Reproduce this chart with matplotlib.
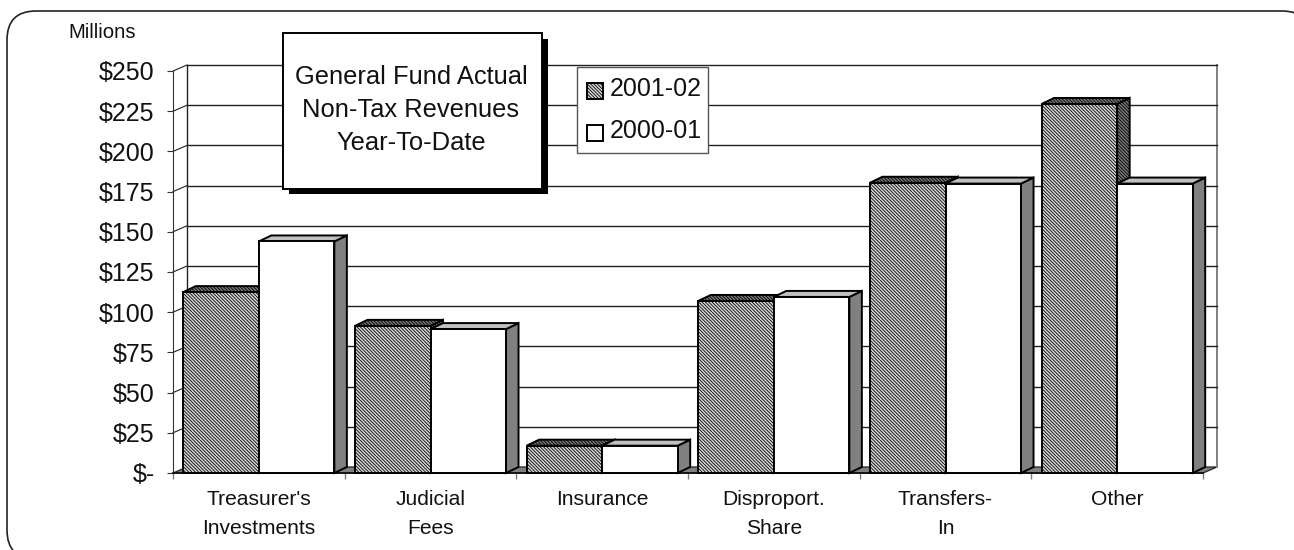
import matplotlib
matplotlib.use("Agg")
import matplotlib.pyplot as plt
from matplotlib.patches import FancyBboxPatch, Polygon, Rectangle

plt.rcParams['font.family'] = ['Liberation Sans', 'DejaVu Sans']
plt.rcParams['hatch.linewidth'] = 0.6

categories = ["Treasurer's\nInvestments", "Judicial\nFees", "Insurance",
              "Disproport.\nShare", "Transfers-\nIn", "Other"]
fy2002 = [112.5, 91.5, 17, 107, 180.5, 229.5]
fy2001 = [144, 89.5, 17, 109.5, 180, 180]
yticks = [0, 25, 50, 75, 100, 125, 150, 175, 200, 225, 250]
ylabels = ["$-", "$25", "$50", "$75", "$100", "$125", "$150", "$175", "$200", "$225", "$250"]
legend_names = ["2001-02", "2000-01"]
title_lines = ["General Fund Actual", "Non-Tax Revenues", "Year-To-Date"]

W, H = 1294, 550
HATCH = '\\' * 10

fig = plt.figure(figsize=(W / 100, H / 100), dpi=100)

# pixel space layer for frame, boxes
bg = fig.add_axes([0, 0, 1, 1], zorder=0)
bg.set_xlim(0, W)
bg.set_ylim(H, 0)
bg.axis("off")
fg = fig.add_axes([0, 0, 1, 1], zorder=5)
fg.set_xlim(0, W)
fg.set_ylim(H, 0)
fg.axis("off")
fg.patch.set_alpha(0)

# the frame runs off the right and bottom edges of the picture
bg.add_patch(FancyBboxPatch((7, 11), 1304, 548, boxstyle="round,pad=0,rounding_size=29",
                            fc="white", ec="#222222", lw=1.2))

# front plane of the 3D box
left, right, bottom, top = 173, 1203, 473, 71
ax = fig.add_axes([left / W, 1 - bottom / H, (right - left) / W, (bottom - top) / H], zorder=2)
ax.patch.set_alpha(0)
ax.set_xlim(0, 6)
ax.set_ylim(0, 250)

# depth offsets in data units
dx = 14 / ((right - left) / 6)
dy = 6 / ((bottom - top) / 250)
bdx = 12.5 / ((right - left) / 6)
bdy = 6 / ((bottom - top) / 250)

# floor and back wall
ax.add_patch(Polygon([(0, 0), (6, 0), (6 + dx, dy), (dx, dy)], closed=True, fc="#808080",
                     ec="#222222", lw=0.9, clip_on=False, zorder=1))
ax.plot([dx, dx], [dy, 250 + dy], color="#222222", lw=1, clip_on=False, zorder=1)
ax.plot([6 + dx, 6 + dx], [dy, 250 + dy], color="#808080", lw=1.4, clip_on=False, zorder=1)
for t in yticks[1:]:
    ax.plot([0, dx], [t, t + dy], color="#222222", lw=0.8, clip_on=False, zorder=1)
    ax.plot([dx, 6 + dx], [t + dy, t + dy], color="#222222", lw=1, clip_on=False, zorder=1)

bar_w = 0.44


def draw_bar(x0, val, face, side, topc, hatch, z):
    x1 = x0 + bar_w
    ax.add_patch(Polygon([(x1, 0), (x1 + bdx, bdy), (x1 + bdx, val + bdy), (x1, val)], closed=True,
                         fc=side, ec="black", lw=1.4, hatch=hatch, clip_on=False, zorder=z, joinstyle="miter"))
    ax.add_patch(Polygon([(x0, val), (x0 + bdx, val + bdy), (x1 + bdx, val + bdy), (x1, val)], closed=True,
                         fc=topc, ec="black", lw=1.4, hatch=hatch, clip_on=False, zorder=z, joinstyle="miter"))
    ax.add_patch(Rectangle((x0, 0), bar_w, val, fc=face, ec="black", lw=1.4, hatch=hatch,
                           clip_on=False, zorder=z + 0.5, joinstyle="miter"))


for i in range(len(categories)):
    z = 3 + i
    draw_bar(i + 0.5 - bar_w, fy2002[i], "#d8d8d8", "#777777", "#777777", HATCH, z)
    draw_bar(i + 0.5, fy2001[i], "white", "#808080", "#c0c0c0", None, z + 0.6)

ax.set_yticks(yticks)
ax.set_yticklabels(ylabels, fontsize=18, color="#111111")
ax.set_xticks(range(7))
ax.set_xticklabels([])
ax.set_xticks([i + 0.5 for i in range(6)], minor=True)
ax.set_xticklabels(categories, minor=True, fontsize=15.1, color="#111111", linespacing=1.7, va="top")
ax.tick_params(axis="x", which="minor", length=0, pad=12)
ax.tick_params(axis="x", which="major", length=4.5, width=1, color="#808080")
ax.tick_params(axis="y", length=4.5, width=0.8, pad=8.7, color="#333333")
for s in ["top", "right"]:
    ax.spines[s].set_visible(False)
ax.spines["left"].set_color("#333333")
ax.spines["bottom"].set_color("#111111")
ax.spines["bottom"].set_linewidth(1.3)
ax.spines["left"].set_zorder(1)

fg.text(68, 33, "Millions", fontsize=14.6, va="center", ha="left", color="#111111")

# title box with drop shadow
fg.add_patch(Rectangle((289, 39), 259, 155, fc="black", ec="black", lw=0))
fg.add_patch(Rectangle((283, 33), 259, 156, fc="white", ec="black", lw=1.4))
for ypos, line in zip([77, 110, 143], title_lines):
    fg.text(411, ypos, line, fontsize=18.4, ha="center", va="center", color="#111111")

# legend box
fg.add_patch(Rectangle((577, 67), 131, 86, fc="white", ec="#555555", lw=1))
fg.add_patch(Rectangle((587, 83), 16, 16, fc="#d8d8d8", ec="black", lw=1.4, hatch=HATCH))
fg.add_patch(Rectangle((587, 125), 16, 16, fc="white", ec="black", lw=1.4))
for ypos, name in zip([89, 131], legend_names):
    fg.text(610, ypos, name, fontsize=18, ha="left", va="center", color="#111111")

fig.savefig("out.png", dpi=100)
